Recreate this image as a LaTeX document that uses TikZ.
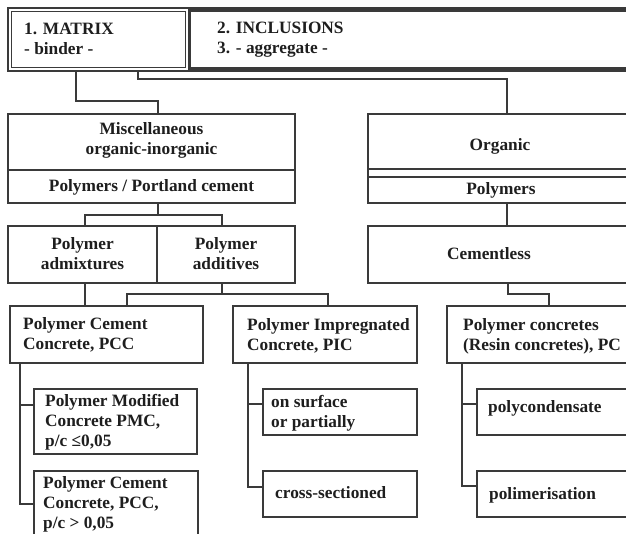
\documentclass[tikz,border=0pt]{standalone}
\usepackage{fontspec}
\setmainfont{Liberation Serif}
\definecolor{lc}{HTML}{3A3A3A}
\definecolor{tc}{HTML}{1E1E1E}
\newcommand{\lbfont}{\fontsize{17.3}{20}\selectfont\bfseries}
\begin{document}
\begin{tikzpicture}[x=1pt,y=-1pt,
  box/.style={draw=lc, line width=1.3pt, inner sep=0pt, outer sep=0pt, anchor=north west, fill=white},
  lbl/.style={inner sep=0pt, align=left, anchor=base west, text=tc, font=\lbfont},
  clbl/.style={inner sep=0pt, align=center, anchor=base, text=tc, font=\lbfont},
  conn/.style={draw=lc, line width=1.2pt}]
\path[use as bounding box] (0,0) rectangle (626,534);
\clip (0,0) rectangle (626,534);
% top frame
\node[box, line width=1.2pt, minimum width=640pt, minimum height=63pt] (frame) at (8,8) {};
\node[box, line width=1pt, minimum width=174pt, minimum height=56pt] (matrix) at (11.5,11.5) {};
\node[box, line width=3pt, minimum width=455pt, minimum height=58pt] (incl) at (189.5,10.5) {};
\node[lbl] (matrixt) at (24,55) {1. MATRIX\\- binder -};
\node[lbl] (inclt) at (217,54) {2. INCLUSIONS\\3. - aggregate -};
% left column
\node[box, minimum width=287pt, minimum height=56pt] (misc) at (8,114) {};
\node[box, minimum width=287pt, minimum height=33pt] (portland) at (8,170) {};
\node[box, minimum width=149pt, minimum height=57pt] (admix) at (8,226) {};
\node[box, minimum width=138pt, minimum height=57pt] (addit) at (157,226) {};
\node[clbl] (misct) at (151.5,155) {Miscellaneous\\organic-inorganic};
\node[clbl] (portlandt) at (151.5,192) {Polymers / Portland cement};
\node[clbl] (admixt) at (82.5,270) {Polymer\\admixtures};
\node[clbl] (addit-t) at (226,270) {Polymer\\additives};
% right column
\node[box, minimum width=272pt, minimum height=55pt] (orgtop) at (368,114) {};
\node[box, minimum width=272pt, minimum height=26pt] (orgpoly) at (368,177) {};
\node[box, minimum width=272pt, minimum height=57pt] (cemless) at (368,226) {};
\node[clbl] (orgt) at (500,151) {Organic};
\node[clbl] (orgpolyt) at (501,195) {Polymers};
\node[lbl] (cemlesst) at (447,260) {Cementless};
% third row
\node[box, minimum width=193pt, minimum height=57pt] (pcc) at (10,306) {};
\node[box, minimum width=184pt, minimum height=57pt] (pic) at (233,306) {};
\node[box, minimum width=200pt, minimum height=57pt] (pc) at (447,306) {};
\node[lbl] (pcct) at (23,349) {Polymer Cement\\Concrete, PCC};
\node[lbl] (pict) at (247,350) {Polymer Impregnated\\Concrete, PIC};
\node[lbl] (pct) at (463,350) {Polymer concretes\\(Resin concretes), PC};
% sub boxes
\node[box, line width=2pt, minimum width=163pt, minimum height=65pt] (pmc) at (34,389) {};
\node[box, line width=2pt, minimum width=164pt, minimum height=66pt] (pcc2) at (34,471) {};
\node[box, minimum width=154pt, minimum height=46pt] (surf) at (263,389) {};
\node[box, minimum width=154pt, minimum height=46pt] (cross) at (263,471) {};
\node[box, minimum width=170pt, minimum height=46pt] (polyc) at (477,389) {};
\node[box, minimum width=170pt, minimum height=46pt] (polim) at (477,471) {};
\node[lbl] (pmct) at (45,446) {Polymer Modified\\Concrete PMC,\\p/c ≤0,05};
\node[lbl] (pcc2t) at (43,528) {Polymer Cement\\Concrete, PCC,\\p/c > 0,05};
\node[lbl] (surft) at (271,427) {on surface\\or partially};
\node[lbl] (crosst) at (275,498) {cross-sectioned};
\node[lbl] (polyct) at (488,412) {polycondensate};
\node[lbl] (polimt) at (489,499) {polimerisation};
% connectors
\draw[conn] ([xshift=68pt]frame.south west) -- ++(0,30) -| ([xshift=150pt]misc.north west);
\draw[conn] ([xshift=130pt]frame.south west) -- ++(0,8) -| ([xshift=139pt]orgtop.north west);
\draw[conn] ([xshift=150pt]portland.south west) -- ++(0,12);
\draw[conn] ([xshift=77pt]admix.north west) -- ++(0,-11) -| ([xshift=65pt]addit.north west);
\draw[conn] ([xshift=77pt]admix.south west) -- ([xshift=75pt]pcc.north west);
\draw[conn] ([xshift=65pt]addit.south west) -- ++(0,11);
\draw[conn] ([xshift=117pt]pcc.north west) -- ++(0,-12) -| ([xshift=95pt]pic.north west);
\draw[conn] (orgtop.south west) -- (orgpoly.north west);
\draw[conn] ([xshift=139pt]orgpoly.south west) -- ([xshift=139pt]cemless.north west);
\draw[conn] ([xshift=140pt]cemless.south west) -- ++(0,11) -| ([xshift=102pt]pc.north west);
\draw[conn] ([xshift=10pt]pcc.south west) |- ([yshift=-33pt]pcc2.north west);
\draw[conn] ([yshift=-16pt]pmc.north west) -| ([xshift=10pt]pcc.south west);
\draw[conn] ([xshift=15pt]pic.south west) |- ([yshift=-16pt]cross.north west);
\draw[conn] ([yshift=-15pt]surf.north west) -| ([xshift=15pt]pic.south west);
\draw[conn] ([xshift=15pt]pc.south west) |- ([yshift=-15pt]polim.north west);
\draw[conn] ([yshift=-15pt]polyc.north west) -| ([xshift=15pt]pc.south west);
\end{tikzpicture}
\end{document}
